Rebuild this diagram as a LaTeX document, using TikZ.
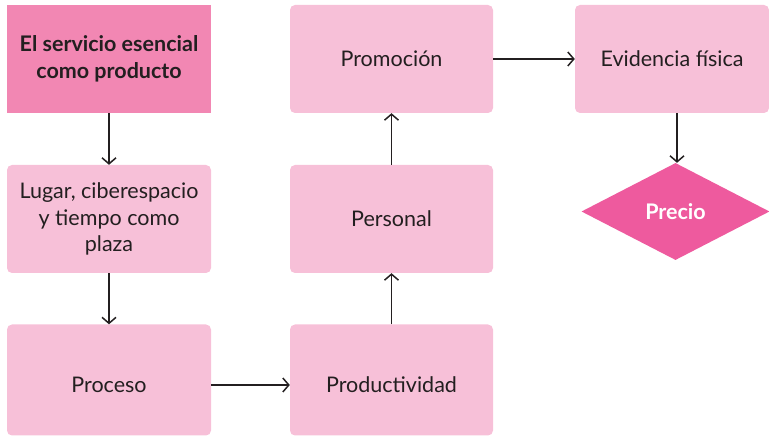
\documentclass[tikz,border=0pt]{standalone}
\usepackage{fontspec}
\setmainfont{Lato}
\usetikzlibrary{arrows.meta,shapes.geometric}
\definecolor{darkpink}{HTML}{F287B3}
\definecolor{lightpink}{HTML}{F7C0D8}
\definecolor{hotpink}{HTML}{EE5A9E}
\definecolor{textdark}{HTML}{231F20}
\tikzset{
  x=1pt,y=1pt,
  base/.style={minimum width=204pt,minimum height=108pt,inner sep=0pt,align=center,
    font=\fontsize{21.5}{26.5}\selectfont,text=textdark},
  softbox/.style={base,fill=lightpink,rounded corners=5pt},
  headbox/.style={base,fill=darkpink,font=\bfseries\fontsize{21.5}{26.5}\selectfont},
  plaintext/.style={inner sep=0pt,font=\fontsize{21.5}{26.5}\selectfont,text=textdark},
  flow/.style={draw=textdark,line width=1.5pt,-{Straight Barb[length=6pt,width=14pt,line width=1.5pt]}}
}
\begin{document}
\begin{tikzpicture}
\useasboundingbox (0,0) rectangle (769,436);
\node[headbox] (b1) at (109,377) {El servicio esencial\\como producto};
\node[softbox] (b2) at (109,217) {Lugar, ciberespacio\\y tiempo como\\plaza};
\node[softbox,minimum height=111pt] (b3) at (109,56) {};
\node[plaintext] (b3t) at ([yshift=-5pt]b3.center) {Proceso};
\node[softbox,minimum width=203pt,minimum height=111pt] (b4) at (391.5,56) {};
\node[plaintext] (b4t) at ([yshift=-5pt]b4.center) {Productividad};
\node[softbox,minimum width=203pt] (b5) at (391.5,217) {Personal};
\node[softbox,minimum width=203pt] (b6) at (391.5,377) {Promoción};
\node[softbox,minimum width=194pt] (b7) at (672,377) {Evidencia física};
\node[diamond,fill=hotpink,minimum width=188pt,minimum height=97pt,inner sep=0pt,aspect=1.94,
  text=white,font=\bfseries\fontsize{21.5}{26.5}\selectfont] (pr) at (675.5,224.5) {Precio};
\draw[flow] (b1.south) -- (b2.north);
\draw[flow] (b2.south) -- (b3.north);
\draw[flow] ([yshift=-5pt]b3.east) -- ([yshift=-5pt]b4.west);
\draw[flow] (b4.north) -- (b5.south);
\draw[flow] (b5.north) -- (b6.south);
\draw[flow] (b6.east) -- (b7.west);
\draw[flow] ([xshift=5pt]b7.south) -- ([xshift=5pt]b7.south |- pr.north);
\end{tikzpicture}
\end{document}
